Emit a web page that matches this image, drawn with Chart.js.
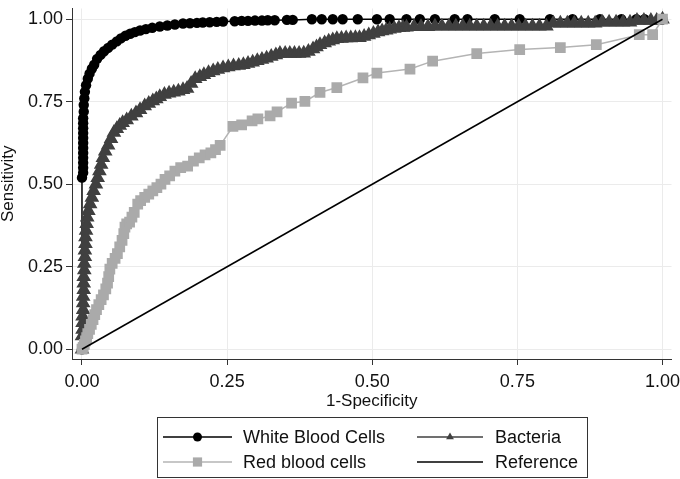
<!DOCTYPE html>
<html lang="en">
<head>
  <meta charset="UTF-8" />
  <title>ROC curves - urine markers</title>
  <script src="https://cdn.jsdelivr.net/npm/chart.js"></script>
  <style>
    body { margin: 0; background: #fff; }
  </style>
</head>
<body>
  <canvas id="roc" width="680" height="479"></canvas>

  <script>
    // tick values (labels are shown with two decimals)
    const xTicks = [0, 0.25, 0.5, 0.75, 1];
    const yTicks = [0, 0.25, 0.5, 0.75, 1];

    // White Blood Cells
    const wbcX = [0, 0, 0.002, 0.002, 0.002, 0.002, 0.002, 0.002, 0.002, 0.002, 0.002, 0.002, 0.002, 0.002, 0.003,
      0.003, 0.004, 0.005, 0.007, 0.010, 0.013, 0.017, 0.021, 0.026, 0.032, 0.038, 0.045, 0.052, 0.060, 0.067,
      0.075, 0.083, 0.091, 0.100, 0.110, 0.121, 0.134, 0.147, 0.160, 0.174, 0.186, 0.198, 0.208, 0.220, 0.232,
      0.243, 0.263, 0.275, 0.286, 0.298, 0.310, 0.320, 0.332, 0.353, 0.363, 0.396, 0.413, 0.432, 0.449, 0.475,
      0.508, 0.530, 0.559, 0.582, 0.608, 0.642, 0.664, 0.711, 0.754, 0.806, 0.845, 0.892, 0.929, 0.955, 0.969, 1];
    const wbcY = [0, 0.52, 0.535, 0.55, 0.565, 0.58, 0.595, 0.61, 0.625, 0.64, 0.655, 0.67, 0.685, 0.70, 0.72,
      0.74, 0.76, 0.78, 0.80, 0.82, 0.835, 0.85, 0.862, 0.880, 0.892, 0.903, 0.913, 0.923, 0.933, 0.942,
      0.950, 0.956, 0.961, 0.966, 0.970, 0.974, 0.978, 0.981, 0.984, 0.987, 0.988, 0.989, 0.990, 0.991, 0.992,
      0.993, 0.994, 0.995, 0.995, 0.996, 0.996, 0.997, 0.997, 0.998, 0.998, 1, 1, 1, 1, 1,
      1, 1, 1, 1, 1, 1, 1, 1, 1, 1, 1, 1, 1, 1, 1, 1];

    // Bacteria
    const bacX = [0, 0, 0.001, 0.001, 0.001, 0.002, 0.002, 0.002, 0.003, 0.003, 0.003, 0.004, 0.004, 0.005, 0.005,
      0.006, 0.006, 0.007, 0.008, 0.009, 0.011, 0.014, 0.017, 0.020, 0.024, 0.027, 0.030, 0.033, 0.036, 0.040,
      0.045, 0.050, 0.055, 0.060, 0.065, 0.070, 0.077, 0.085, 0.093, 0.100, 0.108, 0.115, 0.122, 0.128, 0.134,
      0.142, 0.150, 0.158, 0.166, 0.174, 0.181, 0.188, 0.195, 0.203, 0.210, 0.218, 0.226, 0.234, 0.243, 0.252,
      0.261, 0.270, 0.278, 0.286, 0.294, 0.302, 0.310, 0.318, 0.326, 0.334, 0.341, 0.350, 0.358, 0.366, 0.374,
      0.382, 0.390, 0.398, 0.404, 0.410, 0.418, 0.425, 0.432, 0.439, 0.447, 0.455, 0.463, 0.471, 0.478, 0.486,
      0.494, 0.502, 0.510, 0.517, 0.524, 0.530, 0.538, 0.546, 0.553, 0.559, 0.572, 0.584, 0.596, 0.608, 0.620,
      0.632, 0.644, 0.656, 0.668, 0.680, 0.692, 0.704, 0.716, 0.728, 0.740, 0.752, 0.764, 0.776, 0.788, 0.800,
      0.812, 0.824, 0.836, 0.848, 0.860, 0.872, 0.884, 0.896, 0.908, 0.920, 0.932, 0.944, 0.956, 0.968, 0.980,
      0.990, 1];
    const bacY = [0, 0.04, 0.06, 0.08, 0.10, 0.12, 0.14, 0.16, 0.18, 0.20, 0.22, 0.24, 0.26, 0.28, 0.30,
      0.32, 0.34, 0.36, 0.38, 0.40, 0.42, 0.44, 0.46, 0.48, 0.50, 0.52, 0.54, 0.56, 0.58, 0.60,
      0.618, 0.638, 0.657, 0.668, 0.678, 0.686, 0.695, 0.706, 0.716, 0.726, 0.737, 0.745, 0.752, 0.758, 0.765,
      0.772, 0.776, 0.779, 0.782, 0.786, 0.790, 0.805, 0.820, 0.826, 0.832, 0.838, 0.843, 0.848, 0.852, 0.855,
      0.858, 0.860, 0.862, 0.866, 0.870, 0.874, 0.878, 0.882, 0.887, 0.892, 0.896, 0.896, 0.896, 0.896, 0.896,
      0.897, 0.902, 0.910, 0.916, 0.923, 0.928, 0.933, 0.937, 0.941, 0.942, 0.943, 0.943, 0.944, 0.944, 0.948,
      0.952, 0.957, 0.961, 0.964, 0.967, 0.970, 0.972, 0.974, 0.975, 0.976, 0.977, 0.977, 0.977, 0.979, 0.979,
      0.979, 0.979, 0.979, 0.979, 0.979, 0.979, 0.979, 0.979, 0.979, 0.979, 0.979, 0.979, 0.979, 0.979, 0.979,
      0.988, 0.988, 0.988, 0.988, 0.988, 0.988, 0.988, 0.991, 0.991, 0.991, 0.991, 0.991, 0.996, 0.996, 0.996,
      0.996, 1];

    // Red blood cells
    const rbcX = [0, 0.002, 0.004, 0.006, 0.008, 0.010, 0.013, 0.016, 0.019, 0.022, 0.025, 0.029, 0.033, 0.037, 0.041,
      0.044, 0.046, 0.048, 0.052, 0.057, 0.061, 0.065, 0.069, 0.072, 0.074, 0.077, 0.082, 0.086, 0.090, 0.096,
      0.101, 0.108, 0.115, 0.122, 0.129, 0.136, 0.143, 0.151, 0.160, 0.170, 0.182, 0.192, 0.202, 0.212, 0.222,
      0.230, 0.238, 0.260, 0.275, 0.293, 0.303, 0.324, 0.336, 0.361, 0.384, 0.410, 0.439, 0.484, 0.508, 0.565,
      0.604, 0.680, 0.754, 0.824, 0.886, 0.960, 0.983, 1];
    const rbcY = [0, 0.006, 0.015, 0.025, 0.035, 0.047, 0.060, 0.075, 0.090, 0.105, 0.120, 0.135, 0.150, 0.165, 0.183,
      0.200, 0.220, 0.243, 0.260, 0.275, 0.290, 0.310, 0.330, 0.350, 0.370, 0.380, 0.385, 0.400, 0.415, 0.440,
      0.450, 0.460, 0.470, 0.480, 0.490, 0.500, 0.515, 0.525, 0.540, 0.550, 0.555, 0.570, 0.580, 0.589, 0.595,
      0.605, 0.618, 0.675, 0.680, 0.692, 0.698, 0.707, 0.719, 0.746, 0.751, 0.778, 0.793, 0.822, 0.837, 0.849,
      0.873, 0.896, 0.908, 0.914, 0.923, 0.953, 0.953, 1];

    // Reference diagonal
    const refX = [0, 1];
    const refY = [0, 1];

    function toPoints(xs, ys) {
      return xs.map((x, i) => ({ x: x, y: ys[i] }));
    }

    const FONT = "'Liberation Sans', Arial, Helvetica, sans-serif";

    // legend box below the plot, 2 x 2 like the original
    const legendBox = {
      id: "legendBox",
      afterDraw(chart) {
        const ctx = chart.ctx;
        const slots = [
          [163, 232, 243, 437],
          [417, 483, 495, 437],
          [163, 232, 243, 462],
          [417, 483, 495, 462]
        ];
        ctx.save();
        ctx.strokeStyle = "#333";
        ctx.lineWidth = 1;
        ctx.strokeRect(157.5, 417.5, 430, 60);
        chart.data.datasets.forEach((d, i) => {
          const [x0, x1, tx, y] = slots[i];
          ctx.strokeStyle = d.borderColor;
          ctx.lineWidth = d.borderWidth;
          ctx.beginPath();
          ctx.moveTo(x0, y);
          ctx.lineTo(x1, y);
          ctx.stroke();
          if (d.legendRadius) {
            ctx.fillStyle = d.pointBackgroundColor;
            Chart.helpers.drawPoint(ctx, {
              pointStyle: d.pointStyle, radius: d.legendRadius, rotation: 0, borderWidth: 0
            }, (x0 + x1) / 2, y);
          }
          ctx.fillStyle = "#111";
          ctx.font = "18px " + FONT;
          ctx.textBaseline = "middle";
          ctx.textAlign = "left";
          ctx.fillText(d.label, tx, y + 1);
        });
        ctx.restore();
      }
    };

    const ctx = document.getElementById("roc").getContext("2d");
    new Chart(ctx, {
      type: "scatter",
      data: {
        datasets: [
          {
            label: "White Blood Cells",
            data: toPoints(wbcX, wbcY),
            showLine: true,
            borderColor: "#000",
            borderWidth: 1.5,
            pointStyle: "circle",
            pointRadius: 5.2,
            pointBackgroundColor: "#000",
            pointBorderWidth: 0,
            legendRadius: 4.5,
            order: 4
          },
          {
            label: "Bacteria",
            data: toPoints(bacX, bacY),
            showLine: true,
            borderColor: "#404040",
            borderWidth: 1.5,
            pointStyle: "triangle",
            pointRadius: 6.5,
            pointBackgroundColor: "#404040",
            pointBorderColor: "#404040",
            pointBorderWidth: 2,
            legendRadius: 4.5,
            order: 3
          },
          {
            label: "Red blood cells",
            data: toPoints(rbcX, rbcY),
            showLine: true,
            borderColor: "#b4b4b4",
            borderWidth: 1.5,
            pointStyle: "rect",
            pointRadius: 7.6,
            pointBackgroundColor: "#aaaaaa",
            pointBorderWidth: 0,
            legendRadius: 6.5,
            order: 2
          },
          {
            label: "Reference",
            data: toPoints(refX, refY),
            showLine: true,
            borderColor: "#000",
            borderWidth: 1.5,
            pointRadius: 0,
            order: 1
          }
        ]
      },
      options: {
        responsive: false,
        animation: false,
        layout: { padding: { left: 0, right: 8, top: 0, bottom: 69 } },
        plugins: {
          legend: { display: false },
          tooltip: { enabled: false }
        },
        scales: {
          x: {
            type: "linear",
            min: -0.01721,
            max: 1.01549,
            afterBuildTicks: (s) => { s.ticks = xTicks.map(v => ({ value: v })); },
            afterFit: (s) => { s.height = 51; s.paddingLeft = 0; s.paddingRight = 0; },
            grid: { color: "#ebebeb", lineWidth: 1, tickLength: 6, tickColor: "#333", tickWidth: 1 },
            border: { display: true, color: "#333", width: 1 },
            ticks: {
              padding: 6,
              color: "#111",
              font: { family: FONT, size: 18 },
              maxRotation: 0,
              callback: (v) => Number(v).toFixed(2)
            },
            title: {
              display: true,
              text: "1-Specificity",
              color: "#111",
              font: { family: FONT, size: 17, lineHeight: 1 },
              padding: 0
            }
          },
          y: {
            type: "linear",
            min: -0.02959,
            max: 1.03254,
            afterBuildTicks: (s) => { s.ticks = yTicks.map(v => ({ value: v })); },
            afterFit: (s) => { s.width = 72; s.paddingTop = 0; s.paddingBottom = 0; },
            grid: { color: "#ebebeb", lineWidth: 1, tickLength: 6, tickColor: "#333", tickWidth: 1 },
            border: { display: true, color: "#333", width: 1 },
            ticks: {
              padding: 3,
              color: "#111",
              font: { family: FONT, size: 18 },
              callback: (v) => Number(v).toFixed(2)
            },
            title: {
              display: true,
              text: "Sensitivity",
              color: "#111",
              font: { family: FONT, size: 17, lineHeight: 1 },
              padding: 0
            }
          }
        }
      },
      plugins: [legendBox]
    });
  </script>
</body>
</html>
